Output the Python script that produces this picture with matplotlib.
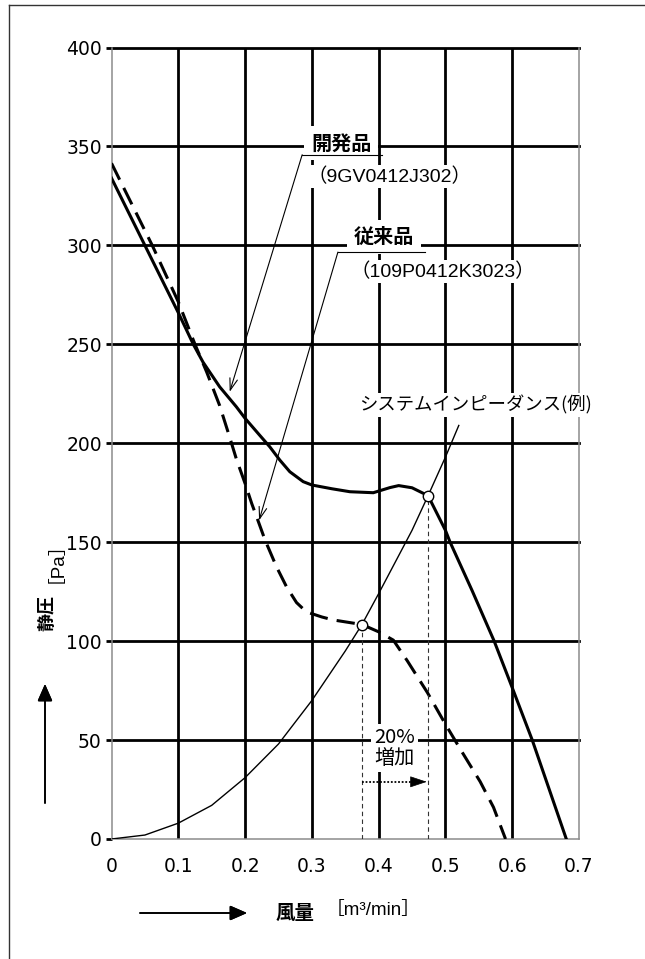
import matplotlib
matplotlib.use("Agg")
import matplotlib.pyplot as plt
from matplotlib.lines import Line2D

# --- data ---
x_ticks = [0, 0.1, 0.2, 0.3, 0.4, 0.5, 0.6, 0.7]
x_labels = ["0", "0.1", "0.2", "0.3", "0.4", "0.5", "0.6", "0.7"]
y_ticks = [0, 50, 100, 150, 200, 250, 300, 350, 400]
y_labels = ["0", "50", "100", "150", "200", "250", "300", "350", "400"]

# 開発品 (9GV0412J302)
new_q = [0, 0.05, 0.1, 0.1225, 0.137, 0.162, 0.187, 0.2, 0.222, 0.237, 0.252,
         0.267, 0.287, 0.3, 0.33, 0.357, 0.392, 0.417, 0.43, 0.45, 0.474, 0.5,
         0.507, 0.54, 0.573, 0.6, 0.63, 0.681]
new_p = [334, 300, 266, 250, 241, 228.5, 218.4, 212.6, 204, 198.2, 191.5,
         185.6, 180.6, 178.9, 177, 175.5, 175, 177.6, 178.6, 177.5, 173.5, 156,
         150, 125.5, 100, 76.5, 50, 0]

# 従来品 (109P0412K3023)
old_q = [0, 0.061, 0.1, 0.125, 0.1425, 0.162, 0.177, 0.187, 0.2, 0.21, 0.22,
         0.23, 0.247, 0.262, 0.277, 0.287, 0.297, 0.315, 0.332, 0.375, 0.4,
         0.422, 0.443, 0.473, 0.5, 0.523, 0.552, 0.572, 0.59]
old_p = [341.5, 300, 271.5, 250, 236, 219, 203, 192, 179.7, 169.5, 160.3,
         151, 137.6, 127.5, 119.5, 116.3, 114.2, 112.2, 110.7, 108.4, 104.7,
         100.5, 90, 74, 58, 45, 29, 16, 0]

# システムインピーダンス(例)
sys_q = [0, 0.05, 0.1, 0.15, 0.2, 0.25, 0.3, 0.35, 0.375, 0.4, 0.45, 0.474, 0.5, 0.52]
sys_p = [0, 2, 8, 17, 31, 48, 70, 95, 108.4, 124, 156, 173.5, 193, 209]

op_old = (0.375, 108.4)
op_new = (0.474, 173.5)

W, H = 645, 959
fig = plt.figure(figsize=(W / 100, H / 100), dpi=100)
ax = fig.add_axes([111.5 / W, 1 - 839 / H, (579 - 111.5) / W, (839 - 47.5) / H])
ax.set_xlim(0, 0.7)
ax.set_ylim(0, 400)

# frame of the original image
fig.add_artist(Line2D([9 / W, 9 / W], [0, 1 - 5 / H], color="#333333", lw=1))
fig.add_artist(Line2D([9 / W, 1], [1 - 5 / H, 1 - 5 / H], color="#333333", lw=1))

for v in y_ticks[1:]:
    ax.axhline(v, color="black", lw=2, zorder=1, clip_on=False)
for v in x_ticks[1:-1]:
    ax.axvline(v, color="black", lw=2, zorder=1)

for side in ["left", "right", "bottom"]:
    ax.spines[side].set_color("#8c8c8c")
    ax.spines[side].set_linewidth(1.1)
ax.spines["top"].set_visible(False)

ax.set_xticks(x_ticks)
ax.set_xticklabels(x_labels)
ax.set_yticks(y_ticks)
ax.set_yticklabels(y_labels)
ax.tick_params(axis="x", length=0, pad=13, labelsize=13.5)
ax.tick_params(axis="y", length=4, width=2, pad=3, labelsize=13.5, color="black")

# curves
ax.plot(sys_q, sys_p, color="black", lw=1.0, zorder=4)
ax.plot(old_q, old_p, color="black", lw=2.2, ls=(0, (6, 3)), zorder=5)
ax.plot(new_q, new_p, color="black", lw=2.2, zorder=5)

# operating points and drop lines
for q, p in [op_old, op_new]:
    ax.plot([q, q], [0, p], color="#333333", lw=0.8, ls=(0, (4, 3)), zorder=6)
    ax.plot([q], [p], "o", ms=7.5, mfc="white", mec="black", mew=1, zorder=7)

jp = ["Noto Sans CJK JP"]
lat = ["Liberation Sans", "Noto Sans CJK JP"]
box = dict(facecolor="white", edgecolor="none", pad=1.5)
arrow_thin = dict(arrowstyle="->,head_length=0.6,head_width=0.2", lw=0.8,
                  color="black", shrinkA=0, shrinkB=0, mutation_scale=14)

# 開発品 label
ax.text(0.344, 351.7, "開発品", family=jp, weight="bold", fontsize=14.5,
        ha="center", va="center", bbox=dict(facecolor="white", edgecolor="none", pad=5), zorder=3)
ax.plot([0.2855, 0.405], [345.8, 345.8], color="black", lw=0.8, zorder=6)
ax.annotate("", xy=(0.177, 226), xytext=(0.2855, 345.8), arrowprops=arrow_thin, zorder=6)
ax.text(0.293, 334.7, "（9GV0412J302）", family=lat, fontsize=14,
        ha="left", va="center", bbox=box, zorder=3)

# 従来品 label
ax.text(0.408, 304.3, "従来品", family=jp, weight="bold", fontsize=14.5,
        ha="center", va="center", bbox=dict(facecolor="white", edgecolor="none", pad=5), zorder=3)
ax.plot([0.339, 0.469], [296.6, 296.6], color="black", lw=0.8, zorder=6)
ax.annotate("", xy=(0.221, 161), xytext=(0.339, 296.6), arrowprops=arrow_thin, zorder=6)
ax.text(0.358, 286.7, "（109P0412K3023）", family=lat, fontsize=14,
        ha="left", va="center", bbox=box, zorder=3)

# system impedance label
ax.text(0.371, 219.3, "システムインピーダンス(例)", family=jp, fontsize=13.2,
        ha="left", va="center", bbox=box, zorder=3, clip_on=False)

# 20% 増加
ax.text(0.424, 46, "20%\n増加", family=jp, fontsize=14.5, linespacing=1.0,
        ha="center", va="center", bbox=dict(facecolor="white", edgecolor="none", pad=2.5), zorder=3)
ax.plot([op_old[0], 0.452], [28.9, 28.9], color="black", lw=1.3, ls=(0, (1, 1)), zorder=6)
ax.annotate("", xy=(op_new[0] - 0.002, 28.9), xytext=(0.452, 28.9),
            arrowprops=dict(arrowstyle="-|>,head_length=0.9,head_width=0.3", lw=0.5,
                            color="black", shrinkA=0, shrinkB=0, mutation_scale=12), zorder=6)

# axis labels with arrows (figure pixels)
def fx(px):
    return px / W

def fy(py):
    return 1 - py / H

fig.text(fx(47), fy(613), "静圧", family=jp, weight="bold", fontsize=13,
         rotation=90, ha="center", va="center")
fig.text(fx(47), fy(553), "［Pa］", family=lat, fontsize=13.5,
         rotation=90, ha="center", va="center")
fig.add_artist(plt.annotate("", xy=(fx(45), fy(684)), xytext=(fx(45), fy(803)),
                            xycoords="figure fraction", textcoords="figure fraction",
                            arrowprops=dict(arrowstyle="-|>,head_length=0.8,head_width=0.35",
                                            lw=1.2, color="black", shrinkA=0, shrinkB=0,
                                            mutation_scale=13)))

fig.text(fx(295), fy(913), "風量", family=jp, weight="bold", fontsize=14,
         ha="center", va="center")
fig.text(fx(373), fy(911), "［m³/min］", family=lat, fontsize=13.5,
         ha="center", va="center")
fig.add_artist(plt.annotate("", xy=(fx(247), fy(913)), xytext=(fx(140), fy(913)),
                            xycoords="figure fraction", textcoords="figure fraction",
                            arrowprops=dict(arrowstyle="-|>,head_length=0.8,head_width=0.35",
                                            lw=1.2, color="black", shrinkA=0, shrinkB=0,
                                            mutation_scale=13)))

fig.savefig("out.png", dpi=100)
